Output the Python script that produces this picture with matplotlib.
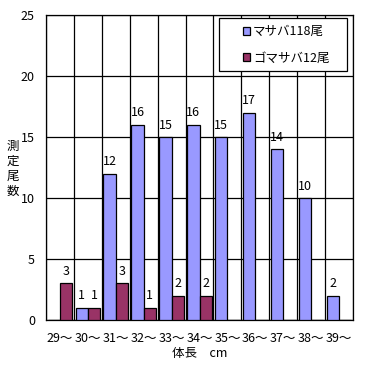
import matplotlib
matplotlib.use("Agg")
import matplotlib.pyplot as plt
from matplotlib.patches import Rectangle
import numpy as np

plt.rcParams['font.family'] = ['Noto Sans CJK JP', 'DejaVu Sans']

# Data
categories = ["29～", "30～", "31～", "32～", "33～", "34～", "35～", "36～",
              "37～", "38～", "39～"]
masaba = [0, 1, 12, 16, 15, 16, 15, 17, 14, 10, 2]
gomasaba = [3, 1, 3, 1, 2, 2, 0, 0, 0, 0, 0]
series_names = ["マサバ118尾", "ゴマサバ12尾"]
ylabel_text = "測定尾数"

fs = 9

fig = plt.figure(figsize=(3.71, 3.65), dpi=100)
ax = fig.add_axes([46 / 371, 1 - 320 / 365, 307 / 371, 305 / 365])

x = np.arange(len(categories))
w = 0.44
b1 = ax.bar(x - w / 2, masaba, w, color='#9999FF', edgecolor='black',
            linewidth=0.9, label=series_names[0], zorder=3)
b2 = ax.bar(x + w / 2, gomasaba, w, color='#993366', edgecolor='black',
            linewidth=0.9, label=series_names[1], zorder=3)

# Value labels (skip zeros)
for bars, vals in ((b1, masaba), (b2, gomasaba)):
    for rect, v in zip(bars, vals):
        if v > 0:
            ax.text(rect.get_x() + rect.get_width() / 2, v + 0.45, str(v),
                    ha='center', va='bottom', fontsize=fs, zorder=4)

ax.set_xlim(-0.5, len(categories) - 0.5)
ax.set_ylim(0, 25)
ax.set_yticks(range(0, 26, 5))
ax.set_xticks(x)
ax.set_xticklabels(categories, fontsize=fs)
ax.tick_params(axis='y', labelsize=fs, length=0, pad=8)
ax.tick_params(axis='x', length=0, pad=9)

# Grid: horizontal at ticks, vertical at category boundaries
ax.set_xticks(np.arange(-0.5, len(categories), 1), minor=True)
ax.grid(axis='y', which='major', color='black', linewidth=0.9, zorder=1)
ax.grid(axis='x', which='minor', color='black', linewidth=0.9, zorder=1)
ax.grid(axis='x', which='major', visible=False)
ax.tick_params(axis='x', which='minor', length=0)
for s in ax.spines.values():
    s.set_linewidth(0.9)

ax.set_xlabel("体長　cm", fontsize=fs, labelpad=1)
for i, ch in enumerate(ylabel_text):
    fig.text(13 / 371, 1 - (146 + 15 * i) / 365, ch, ha='center',
             va='center', fontsize=fs)

# Legend box (wider than matplotlib's own frame)
box = Rectangle((0.5635, 0.816), 0.4165, 0.174, transform=ax.transAxes,
                facecolor='white', edgecolor='black', linewidth=0.9,
                zorder=5)
ax.add_patch(box)
leg = ax.legend(loc='center', bbox_to_anchor=(0.782, 0.902),
                fontsize=fs, frameon=False, handlelength=0.6,
                handleheight=0.6, handletextpad=0.2, labelspacing=1.1,
                borderpad=0, borderaxespad=0)
leg._legend_box.align = "left"
leg.set_zorder(6)

fig.savefig("out.png", dpi=100)
